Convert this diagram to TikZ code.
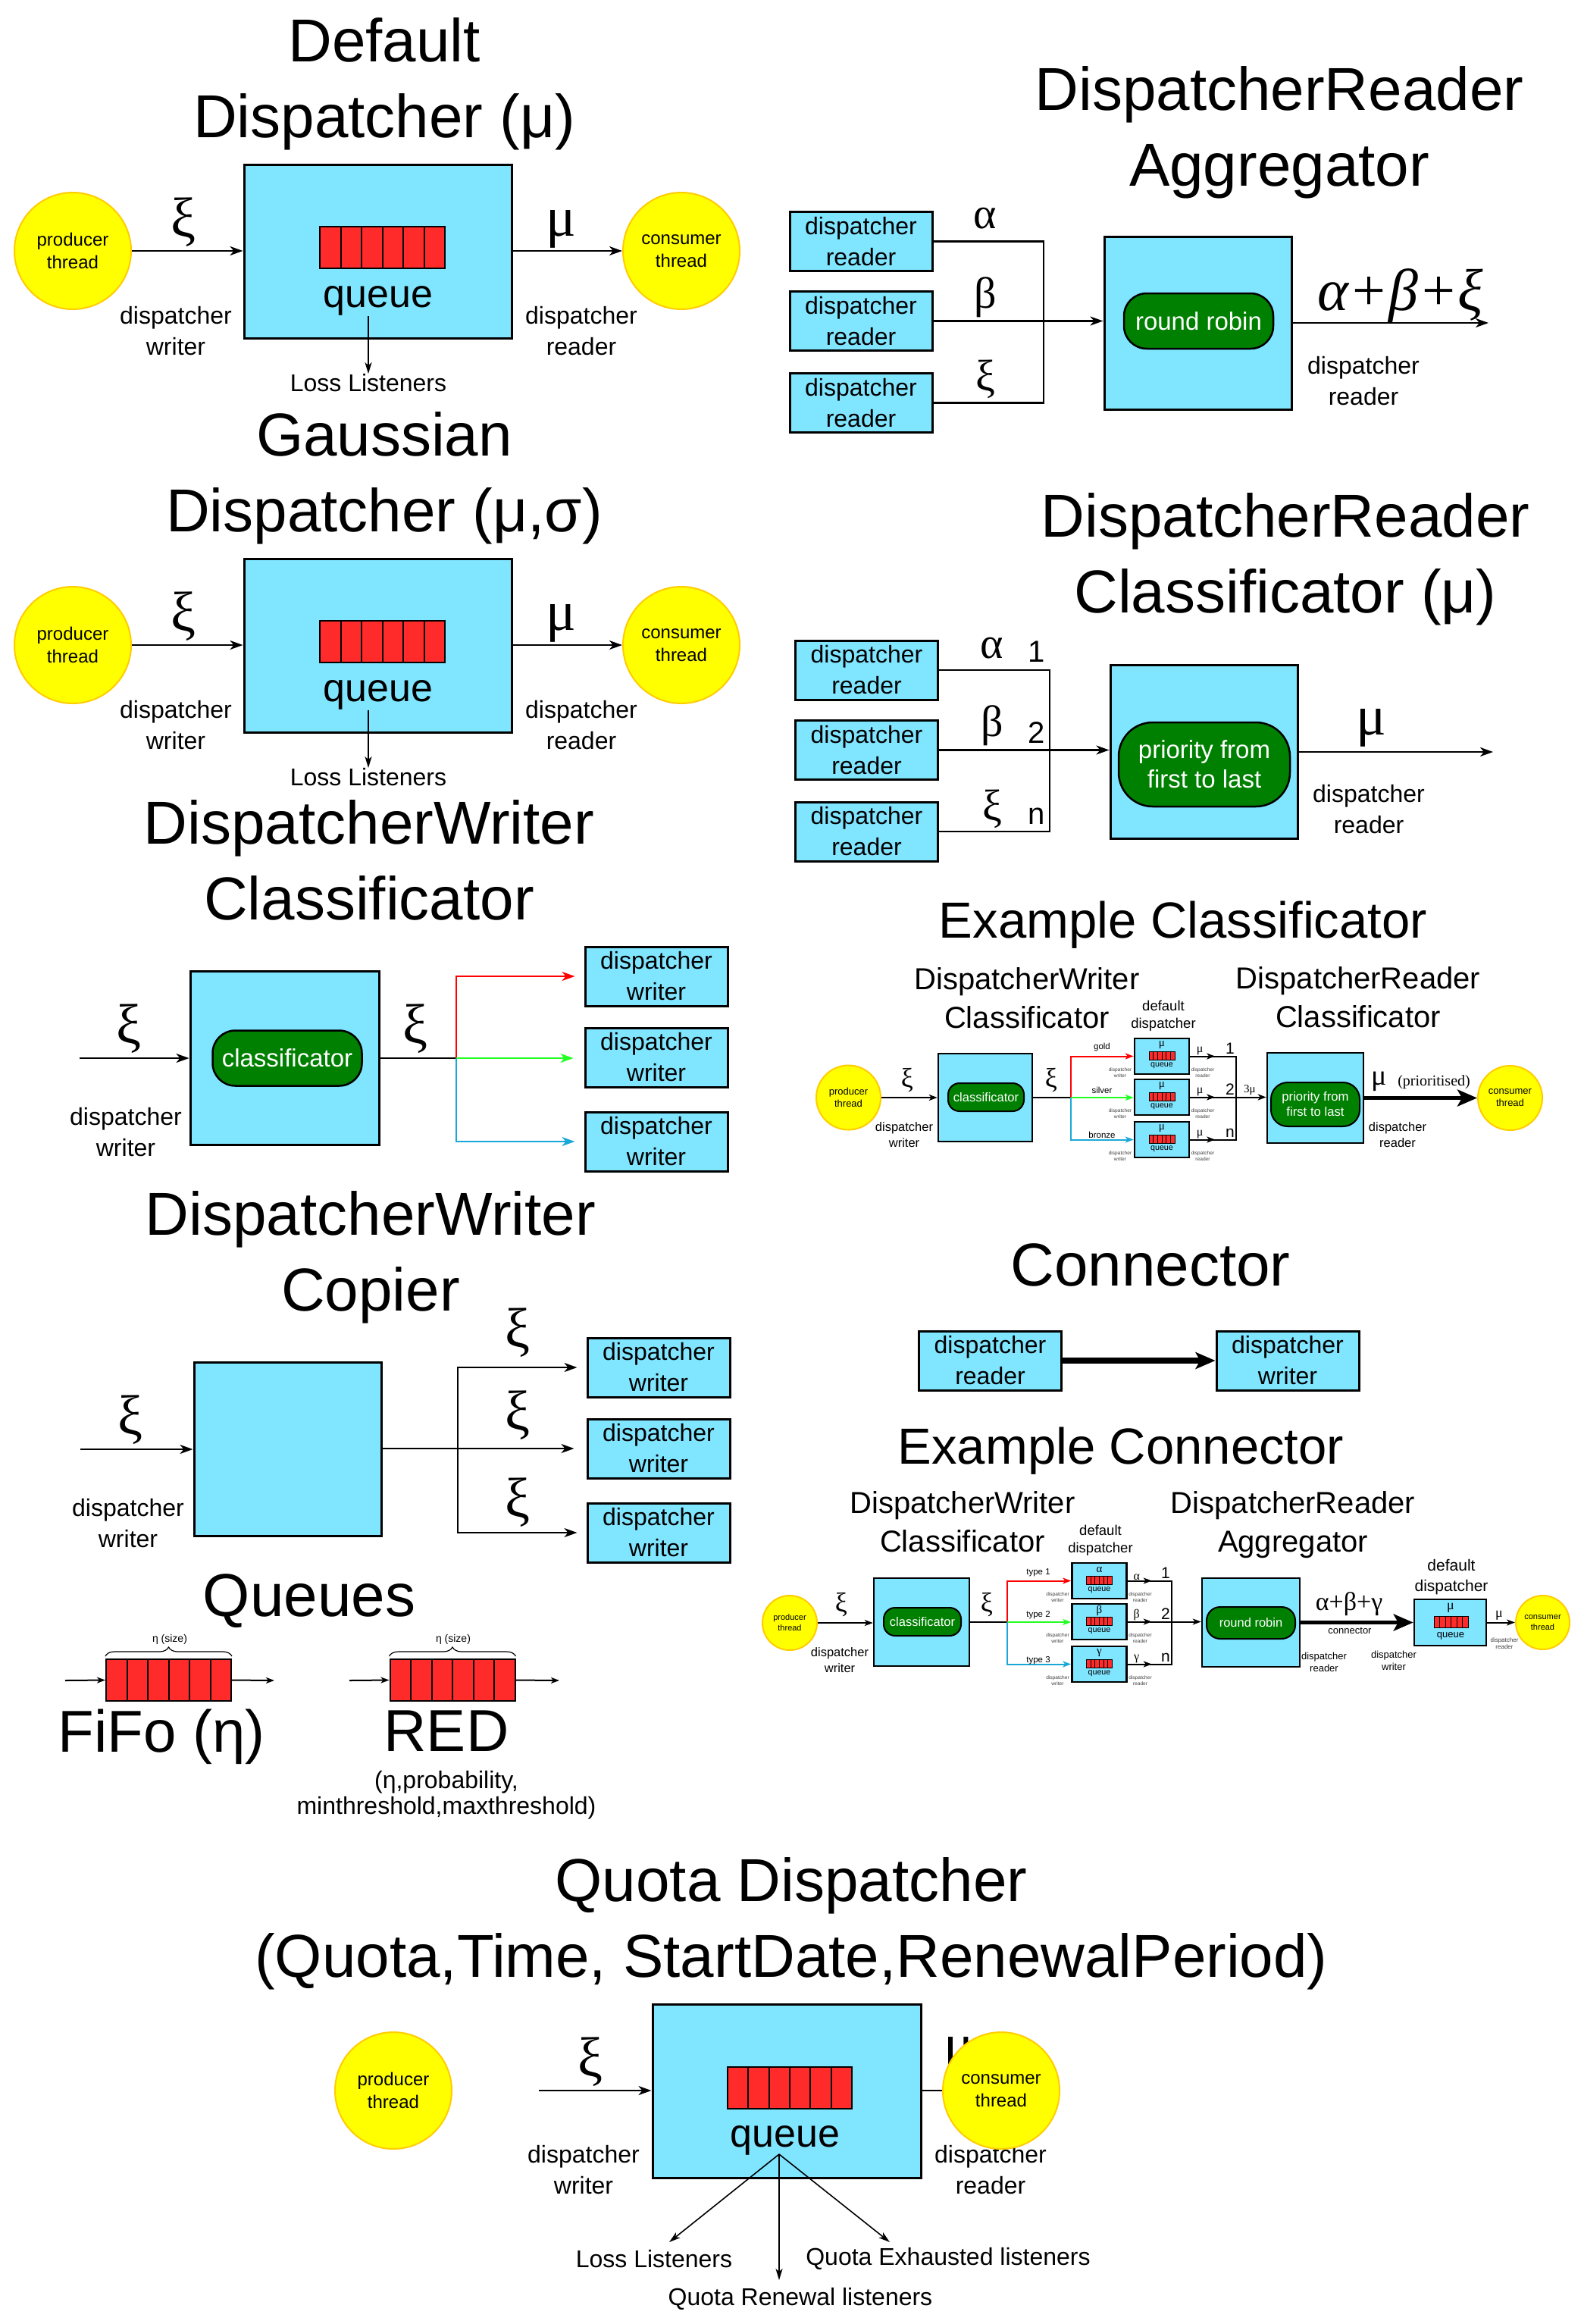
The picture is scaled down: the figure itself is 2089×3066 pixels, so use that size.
\documentclass[tikz,border=0pt]{standalone}
\usepackage{fontspec}
\setmainfont{Liberation Sans}
\newfontfamily\grf{Liberation Serif}
\usetikzlibrary{arrows.meta,calc,decorations.pathreplacing}
\definecolor{boxc}{HTML}{80E5FF}
\definecolor{pillc}{HTML}{008000}
\definecolor{qred}{HTML}{FF2A2A}
\definecolor{yel}{HTML}{FFFF00}
\definecolor{yelb}{HTML}{FFCC00}
\definecolor{redl}{HTML}{FF0000}
\definecolor{grnl}{HTML}{22FF22}
\definecolor{blul}{HTML}{1AA8D8}
\tikzset{
 ttl/.style={align=center,font=\fontsize{80}{100}\selectfont,inner sep=0},
 ext/.style={font=\fontsize{67}{80}\selectfont,inner sep=0},
 sub/.style={align=center,font=\fontsize{40}{51}\selectfont,inner sep=0},
 lbl/.style={align=center,font=\fontsize{32}{41}\selectfont,inner sep=0},
 slbl/.style={align=center,font=\fontsize{16.5}{21}\selectfont,inner sep=0},
 dd/.style={align=center,font=\fontsize{18.5}{23}\selectfont,inner sep=0},
 tiny/.style={align=center,font=\fontsize{6.6}{8}\selectfont,text=black!75,inner sep=0},
 bx/.style={draw,fill=boxc,line width=3pt,inner sep=0,align=center},
 dbx/.style={bx,minimum width=188pt,minimum height=78pt,font=\fontsize{32}{41}\selectfont},
 pill/.style={draw,fill=pillc,text=white,line width=2.5pt,inner sep=0,align=center},
 circ/.style={circle,draw=yelb,fill=yel,line width=2pt,inner sep=0,align=center},
 qb/.style={draw,fill=qred,inner sep=0,line width=#1,path picture={\foreach \k in {1,...,5}{\draw[line width=#1] ($(path picture bounding box.north west)!\k/6!(path picture bounding box.north east)$) -- ($(path picture bounding box.south west)!\k/6!(path picture bounding box.south east)$);}}},
 qb/.default=2pt,
 gk/.style={font=\grf\fontsize{74}{74}\selectfont,inner sep=0},
 gm/.style={font=\grf\fontsize{58}{58}\selectfont,inner sep=0},
 gs/.style={font=\grf\fontsize{36}{36}\selectfont,inner sep=0},
 arr/.style={line width=2.5pt,-{Stealth[length=17pt,width=12pt,inset=5pt]}},
 larr/.style={line width=1.6pt,-{Stealth[length=15pt,width=9pt,inset=4pt]}},
 sarr/.style={line width=2pt,-{Stealth[length=11pt,width=8pt,inset=3pt]}},
 tarr/.style={-{Stealth[length=26pt,width=22pt,inset=6pt]}},
 ln/.style={line width=2.5pt},
 sln/.style={line width=2pt},
 qtext/.style={font=\fontsize{52}{60}\selectfont,inner sep=0}
}
\newcommand\dispsec[3]{%
\begin{scope}[shift={(0,#2)}]
 \node[ttl] (t#1) at (507,111) {#3};
 \node[bx,minimum width=353pt,minimum height=229pt] (b#1) at (498.5,331.5) {};
 \node[qb=2pt,minimum width=165pt,minimum height=55pt] (q#1) at (504.5,326.5) {};
 \node[qtext] (qt#1) at (499,397) {queue};
 \node[circ,minimum size=154pt,font=\fontsize{24}{30}\selectfont] (p#1) at (96,331) {producer\\thread};
 \node[circ,minimum size=154pt,font=\fontsize{24}{30}\selectfont] (c#1) at (899,331) {consumer\\thread};
 \draw[arr] (p#1.east) -- (b#1.west |- p#1.east);
 \draw[arr] (b#1.east |- c#1.west) -- (c#1.west);
 \node[gk] (xi#1) at (242,293) {ξ};
 \node[gk] (mu#1) at (740,302) {μ};
 \node[lbl] (dw#1) at (232,437) {dispatcher\\writer};
 \node[lbl] (dr#1) at (767,437) {dispatcher\\reader};
 \node[lbl] (ll#1) at (486,505) {Loss Listeners};
 \draw[larr] (ll#1.north |- qt#1.south) -- (ll#1.north);
\end{scope}}
\newcommand\minidisp[4]{%
 \node[bx,line width=2.5pt,minimum width=72pt,minimum height=47pt] (#1) at (#2,#3+23.5) {};
 \node[font=\grf\fontsize{15}{15}\selectfont,inner sep=0] (#1s) at (#2,#3+9) {#4};
 \node[qb=1pt,minimum width=34pt,minimum height=11pt] (#1q) at (#2,#3+22.5) {};
 \node[font=\fontsize{10.7}{12}\selectfont,inner sep=0] (#1t) at (#2,#3+36) {queue};
 \node[tiny] (#1w) at (#2-55,#3+45) {dispatcher\\writer};
 \node[tiny] (#1r) at (#2+54,#3+45) {dispatcher\\reader};
}
\begin{document}
\begin{tikzpicture}[x=1pt,y=-1pt]
\fill[white] (0,0) rectangle (2089,3066);
\useasboundingbox (0,0) rectangle (2089,3066);

% ---------- Default / Gaussian dispatchers
\dispsec{1}{0}{Default\\Dispatcher (μ)}
\dispsec{2}{520}{Gaussian\\Dispatcher (μ,σ)}

% ---------- DispatcherWriter Classificator
\node[ttl] (t3) at (487,1135) {DispatcherWriter\\Classificator};
\node[bx,minimum width=249pt,minimum height=229pt] (b3) at (375.5,1395.5) {};
\node[pill,minimum width=197pt,minimum height=73pt,rounded corners=30pt,font=\fontsize{33}{40}\selectfont] (pl3) at (379,1396) {classificator};
\coordinate (in3) at (105,1396);
\draw[arr] (in3) -- (b3.west |- in3);
\node[gk] (x31) at (170,1357) {ξ};
\node[lbl] (dw3) at (166,1494) {dispatcher\\writer};
\coordinate (s3) at (602,1396);
\draw[ln] (b3.east |- s3) -- (s3);
\node[gk] (x32) at (548,1357) {ξ};
\node[dbx] (w31) at (866,1288) {dispatcher\\writer};
\node[dbx] (w32) at (866,1395) {dispatcher\\writer};
\node[dbx] (w33) at (866,1506) {dispatcher\\writer};
\draw[arr,redl] (s3) |- ([xshift=-12pt]w31.west);
\draw[arr,grnl] (s3) -- ([xshift=-14pt]w32.west |- s3);
\draw[arr,blul] (s3) |- ([xshift=-12pt]w33.west);

% ---------- DispatcherWriter Copier
\node[ttl] (t4) at (489,1659) {DispatcherWriter\\Copier};
\node[bx,minimum width=247pt,minimum height=229pt] (b4) at (379.5,1911.5) {};
\coordinate (in4) at (106,1912);
\draw[arr] (in4) -- (b4.west |- in4);
\node[gk] (x41) at (172,1873) {ξ};
\node[lbl] (dw4) at (169,2010) {dispatcher\\writer};
\node[dbx] (w41) at (869,1804) {dispatcher\\writer};
\node[dbx] (w42) at (869,1911) {dispatcher\\writer};
\node[dbx] (w43) at (869,2022) {dispatcher\\writer};
\coordinate (s4) at (604,1911);
\draw[arr] (b4.east |- w42.west) -- ([xshift=-16pt]w42.west);
\draw[arr] (s4) |- ([xshift=-12pt]w41.west);
\draw[arr] (s4) |- ([xshift=-12pt]w43.west);
\node[gk] (x42) at (683,1758) {ξ};
\node[gk] (x43) at (683,1867) {ξ};
\node[gk] (x44) at (683,1982) {ξ};

% ---------- Queues
\node[ttl] (t5) at (408,2112) {Queues};
\node[qb=2pt,minimum width=165pt,minimum height=55pt] (qf) at (222.5,2216.5) {};
\coordinate (qfi) at (86,2217);
\coordinate (qfo) at (362,2217);
\draw[sarr] (qfi) -- (qf.west);
\draw[sarr] (qf.east) -- (qfo);
\draw[decorate,decoration={brace,amplitude=12pt},line width=1.2pt] ([yshift=3pt]qf.north west) -- ([yshift=3pt]qf.north east);
\node[font=\fontsize{14}{16}\selectfont,inner sep=0] (bl1) at (224,2163) {η (size)};
\node[font=\fontsize{78}{90}\selectfont,inner sep=0] (ff) at (213,2291) {FiFo (η)};
\node[qb=2pt,minimum width=165pt,minimum height=55pt] (qr) at (597,2216.5) {};
\coordinate (qri) at (461,2217);
\coordinate (qro) at (738,2217);
\draw[sarr] (qri) -- (qr.west);
\draw[sarr] (qr.east) -- (qro);
\draw[decorate,decoration={brace,amplitude=12pt},line width=1.2pt] ([yshift=3pt]qr.north west) -- ([yshift=3pt]qr.north east);
\node[font=\fontsize{14}{16}\selectfont,inner sep=0] (bl2) at (598,2163) {η (size)};
\node[font=\fontsize{78}{90}\selectfont,inner sep=0] (red) at (589,2284) {RED};
\node[font=\fontsize{32}{34}\selectfont,align=center,inner sep=0] (redp) at (589,2368) {(η,probability,\\minthreshold,maxthreshold)};

% ---------- Quota Dispatcher
\node[ttl] (t6) at (1044,2538) {Quota Dispatcher\\(Quota,Time, StartDate,RenewalPeriod)};
\node[circ,minimum size=154pt,font=\fontsize{24}{30}\selectfont] (p6) at (519,2758) {producer\\thread};
\node[bx,minimum width=354pt,minimum height=229pt] (b6) at (1038,2758.5) {};
\node[qb=2pt,minimum width=164pt,minimum height=55pt] (q6) at (1042,2754.5) {};
\node[qtext] (qt6) at (1036,2824) {queue};
\coordinate (in6) at (711,2758);
\draw[arr] (in6) -- (b6.west |- in6);
\node[gk] (x6) at (779,2720) {ξ};
\node[lbl] (dw6) at (770,2863) {dispatcher\\writer};
\node[gk] (mu6) at (1265,2712) {μ};
\node[lbl] (dr6) at (1307,2863) {dispatcher\\reader};
\coordinate (c6c) at (1321,2758);
\draw[ln] (b6.east |- c6c) -- (c6c);
\node[circ,minimum size=154pt,font=\fontsize{24}{30}\selectfont] (c6) at (c6c) {consumer\\thread};
\coordinate (qs6) at (1028,2842);
\coordinate (tl6) at (883,2958);
\coordinate (tr6) at (1028,3008);
\coordinate (te6) at (1174,2958);
\draw[larr] (qs6) -- (tl6);
\draw[larr] (qs6) -- (tr6);
\draw[larr] (qs6) -- (te6);
\node[lbl] (ll6) at (863,2980) {Loss Listeners};
\node[lbl] (le6) at (1251,2980) {Quota Exhausted listeners};
\node[lbl] (lr6) at (1056,3033) {Quota Renewal listeners};

% ---------- DispatcherReader Aggregator
\node[ttl] (t7) at (1688,175) {DispatcherReader\\Aggregator};
\node[dbx] (r71) at (1136,318.5) {dispatcher\\reader};
\node[dbx] (r72) at (1136,423.5) {dispatcher\\reader};
\node[dbx] (r73) at (1136,531.5) {dispatcher\\reader};
\coordinate (j71) at (1377,318.5);
\coordinate (j73) at (1377,531.5);
\draw[ln] (r71.east) -- (j71) -- (j73) -- (r73.east);
\node[bx,minimum width=247pt,minimum height=228pt] (b7) at (1580.5,426) {};
\draw[arr] (r72.east) -- (b7.west |- r72.east);
\node[pill,minimum width=197pt,minimum height=73pt,rounded corners=30pt,font=\fontsize{33}{40}\selectfont] (pl7) at (1581.5,423.5) {round robin};
\coordinate (o7) at (1964,426);
\draw[arr] (b7.east |- o7) -- (o7);
\node[font=\grf\itshape\fontsize{78}{78}\selectfont,inner sep=0] (s7) at (1848,390) {α+β+ξ};
\node[gm] (a7) at (1300,288) {α};
\node[gm] (bt7) at (1300,392) {β};
\node[gm] (x7) at (1300,500) {ξ};
\node[lbl] (dr7) at (1799,503) {dispatcher\\reader};

% ---------- DispatcherReader Classificator
\node[ttl] (t8) at (1696,738) {DispatcherReader\\Classificator (μ)};
\node[dbx] (r81) at (1143.5,884) {dispatcher\\reader};
\node[dbx] (r82) at (1143.5,989.5) {dispatcher\\reader};
\node[dbx] (r83) at (1143.5,1097) {dispatcher\\reader};
\coordinate (j81) at (1385,884);
\coordinate (j83) at (1385,1097);
\draw[ln] (r81.east) -- (j81) -- (j83) -- (r83.east);
\node[bx,minimum width=247pt,minimum height=229pt] (b8) at (1588.5,991.5) {};
\draw[arr] (r82.east) -- (b8.west |- r82.east);
\node[pill,minimum width=226pt,minimum height=111pt,rounded corners=45pt,font=\fontsize{33}{39}\selectfont] (pl8) at (1589,1008.5) {priority from\\first to last};
\coordinate (o8) at (1970,992);
\draw[arr] (b8.east |- o8) -- (o8);
\node[gk] (mu8) at (1809,960) {μ};
\node[lbl] (dr8) at (1806,1068) {dispatcher\\reader};
\node[gm] (a8) at (1309,855) {α};
\node[gm] (bt8) at (1309,957) {β};
\node[gm] (x8) at (1309,1067) {ξ};
\node[font=\fontsize{40}{40}\selectfont,inner sep=0] (n81) at (1368,860) {1};
\node[font=\fontsize{40}{40}\selectfont,inner sep=0] (n82) at (1368,967) {2};
\node[font=\fontsize{40}{40}\selectfont,inner sep=0] (n83) at (1368,1077) {n};

% ---------- Example Classificator
\node[ext] (t9) at (1561,1220) {Example Classificator};
\node[sub] (s9a) at (1355,1317) {DispatcherWriter\\Classificator};
\node[sub] (s9b) at (1792,1316) {DispatcherReader\\Classificator};
\node[dd] (d9) at (1535,1340) {default\\dispatcher};
\node[circ,minimum size=85pt,font=\fontsize{13}{16}\selectfont] (p9) at (1119.5,1448) {producer\\thread};
\node[bx,line width=2.5pt,minimum width=124pt,minimum height=116pt] (b9) at (1300,1448) {};
\node[pill,line width=2pt,minimum width=100pt,minimum height=37pt,rounded corners=15pt,font=\fontsize{16.5}{20}\selectfont] (pl9) at (1301,1447.5) {classificator};
\draw[sarr] (p9.east) -- (b9.west |- p9.east);
\node[gs] (x91) at (1197,1425) {ξ};
\node[slbl] (dw9) at (1193,1497) {dispatcher\\writer};
\coordinate (s9) at (1413,1448);
\draw[sln] (b9.east |- s9) -- (s9);
\node[gs] (x92) at (1387,1425) {ξ};
\minidisp{m91}{1533}{1370}{μ}
\minidisp{m92}{1533}{1424}{μ}
\minidisp{m93}{1533}{1480}{μ}
\draw[sarr,redl] (s9) |- (m91.west);
\draw[sarr,grnl] (s9) -- (m92.west |- s9);
\draw[sarr,blul] (s9) |- (m93.west);
\node[font=\fontsize{11.5}{12}\selectfont,inner sep=0] (g9) at (1454,1382) {gold};
\node[font=\fontsize{11.5}{12}\selectfont,inner sep=0] (sv9) at (1454,1438) {silver};
\node[font=\fontsize{11.5}{12}\selectfont,inner sep=0] (bz9) at (1454,1497) {bronze};
\coordinate (j91) at (1631,1393.5);
\coordinate (j92) at (1631,1447.5);
\coordinate (j93) at (1631,1503.5);
\draw[sarr] (m91.east) -- ++(33,0);
\draw[sarr] (m92.east) -- ++(33,0);
\draw[sarr] (m93.east) -- ++(33,0);
\draw[sln] ([xshift=30pt]m91.east) -- (j91) -- (j93) -- ([xshift=30pt]m93.east);
\draw[sln] ([xshift=30pt]m92.east) -- (j92);
\node[font=\grf\fontsize{16}{16}\selectfont,anchor=south,inner sep=0] (u91) at ($(m91.east)+(13,-1)$) {μ};
\node[font=\grf\fontsize{16}{16}\selectfont,anchor=south,inner sep=0] (u92) at ($(m92.east)+(13,-1)$) {μ};
\node[font=\grf\fontsize{16}{16}\selectfont,anchor=south,inner sep=0] (u93) at ($(m93.east)+(13,-1)$) {μ};
\node[font=\fontsize{21}{21}\selectfont,anchor=south,inner sep=0] (n91) at (1623,1391) {1};
\node[font=\fontsize{21}{21}\selectfont,anchor=south,inner sep=0] (n92) at (1623,1445) {2};
\node[font=\fontsize{21}{21}\selectfont,anchor=south,inner sep=0] (n93) at (1623,1501) {n};
\node[bx,line width=2.5pt,minimum width=127pt,minimum height=119pt] (b9r) at (1735.5,1448.5) {};
\draw[sarr] (j92) -- (b9r.west |- j92);
\node[font=\grf\fontsize{15}{15}\selectfont,inner sep=0] (tm9) at (1649,1438) {3μ};
\node[pill,line width=2pt,minimum width=117pt,minimum height=58pt,rounded corners=22pt,font=\fontsize{16.7}{20}\selectfont] (pl9r) at (1735.5,1457) {priority from\\first to last};
\node[circ,minimum size=85pt,font=\fontsize{13}{16}\selectfont] (c9) at (1992.5,1448.5) {consumer\\thread};
\draw[tarr,line width=5pt] (b9r.east |- c9.west) -- (c9.west);
\node[font=\grf\fontsize{38}{38}\selectfont,inner sep=0] (mu9) at (1820,1427) {μ};
\node[font=\grf\fontsize{20}{20}\selectfont,inner sep=0] (pr9) at (1892,1428) {(prioritised)};
\node[slbl] (dr9) at (1844,1497) {dispatcher\\reader};

% ---------- Connector
\node[ttl] (t10) at (1518,1669) {Connector};
\node[dbx] (cr) at (1306.5,1795) {dispatcher\\reader};
\node[dbx] (cw) at (1699,1795) {dispatcher\\writer};
\draw[tarr,line width=8pt] (cr) -- (cw);

% ---------- Example Connector
\node[ext] (t11) at (1479,1914) {Example Connector};
\node[sub] (s11a) at (1270,2008) {DispatcherWriter\\Classificator};
\node[sub] (s11b) at (1706,2012) {DispatcherReader\\Aggregator};
\node[dd] (d11) at (1452,2032) {default\\dispatcher};
\node[circ,minimum size=72pt,font=\fontsize{11}{14}\selectfont] (p11) at (1042,2141) {producer\\thread};
\node[bx,line width=2.5pt,minimum width=126pt,minimum height=116pt] (b11) at (1216,2140) {};
\node[pill,line width=2pt,minimum width=102pt,minimum height=37pt,rounded corners=15pt,font=\fontsize{16.5}{20}\selectfont] (pl11) at (1217,2139.5) {classificator};
\draw[sarr] (p11.east) -- (b11.west |- p11.east);
\node[gs] (x111) at (1110,2117) {ξ};
\node[slbl] (dw11) at (1108,2190) {dispatcher\\writer};
\coordinate (s11) at (1329,2140);
\draw[sln] (b11.east |- s11) -- (s11);
\node[gs] (x112) at (1302,2117) {ξ};
\minidisp{m111}{1450.5}{2062}{α}
\minidisp{m112}{1450.5}{2116}{β}
\minidisp{m113}{1450.5}{2172}{γ}
\draw[sarr,redl] (s11) |- (m111.west);
\draw[sarr,grnl] (s11) -- (m112.west |- s11);
\draw[sarr,blul] (s11) |- (m113.west);
\node[font=\fontsize{11.5}{12}\selectfont,inner sep=0] (ty1) at (1370,2075) {type 1};
\node[font=\fontsize{11.5}{12}\selectfont,inner sep=0] (ty2) at (1370,2131) {type 2};
\node[font=\fontsize{11.5}{12}\selectfont,inner sep=0] (ty3) at (1370,2191) {type 3};
\coordinate (j111) at (1546,2085.5);
\coordinate (j112) at (1546,2139.5);
\coordinate (j113) at (1546,2195.5);
\draw[sarr] (m111.east) -- ++(32,0);
\draw[sarr] (m112.east) -- ++(32,0);
\draw[sarr] (m113.east) -- ++(32,0);
\draw[sln] ([xshift=29pt]m111.east) -- (j111) -- (j113) -- ([xshift=29pt]m113.east);
\draw[sln] ([xshift=29pt]m112.east) -- (j112);
\node[font=\grf\fontsize{16}{16}\selectfont,anchor=south,inner sep=0] (u111) at ($(m111.east)+(12,-1)$) {α};
\node[font=\grf\fontsize{16}{16}\selectfont,anchor=south,inner sep=0] (u112) at ($(m112.east)+(12,-1)$) {β};
\node[font=\grf\fontsize{16}{16}\selectfont,anchor=south,inner sep=0] (u113) at ($(m113.east)+(12,-1)$) {γ};
\node[font=\fontsize{21}{21}\selectfont,anchor=south,inner sep=0] (n111) at (1538,2083) {1};
\node[font=\fontsize{21}{21}\selectfont,anchor=south,inner sep=0] (n112) at (1538,2137) {2};
\node[font=\fontsize{21}{21}\selectfont,anchor=south,inner sep=0] (n113) at (1538,2193) {n};
\node[bx,line width=2.5pt,minimum width=129pt,minimum height=117pt] (b11r) at (1650.5,2140.5) {};
\draw[sarr] (j112) -- (b11r.west |- j112);
\node[pill,line width=2pt,minimum width=117pt,minimum height=42pt,rounded corners=18pt,font=\fontsize{16.5}{20}\selectfont] (pl11r) at (1650.5,2141) {round robin};
\node[bx,line width=2.5pt,minimum width=95pt,minimum height=61pt] (dd11) at (1913.5,2140.5) {};
\node[font=\grf\fontsize{18}{18}\selectfont,inner sep=0] (dm11) at (1914,2121) {μ};
\node[qb=1pt,minimum width=45pt,minimum height=15pt] (dq11) at (1914.5,2139.5) {};
\node[font=\fontsize{13}{14}\selectfont,inner sep=0] (dt11) at (1914,2158) {queue};
\draw[tarr,line width=5pt] (b11r.east |- dd11.west) -- (dd11.west);
\node[font=\grf\fontsize{34}{34}\selectfont,inner sep=0] (ab11) at (1780,2116) {α+β+γ};
\node[font=\fontsize{13}{14}\selectfont,inner sep=0] (cn11) at (1781,2151) {connector};
\node[align=center,font=\fontsize{13}{16}\selectfont,inner sep=0] (dr11) at (1747,2193) {dispatcher\\reader};
\node[align=center,font=\fontsize{13}{16}\selectfont,inner sep=0] (dw11b) at (1839,2191) {dispatcher\\writer};
\node[align=center,font=\fontsize{21}{27}\selectfont,inner sep=0] (dd11l) at (1915,2081) {default\\dispatcher};
\node[circ,minimum size=71pt,font=\fontsize{11}{14}\selectfont] (c11) at (2035.5,2140.5) {consumer\\thread};
\draw[sarr] (dd11.east) -- (c11.west);
\node[font=\grf\fontsize{18}{18}\selectfont,anchor=south,inner sep=0] (mu11) at (1978,2138) {μ};
\node[align=center,font=\fontsize{8}{9.5}\selectfont,text=black!75,inner sep=0] (dr11b) at (1985,2168) {dispatcher\\reader};
\end{tikzpicture}
\end{document}
